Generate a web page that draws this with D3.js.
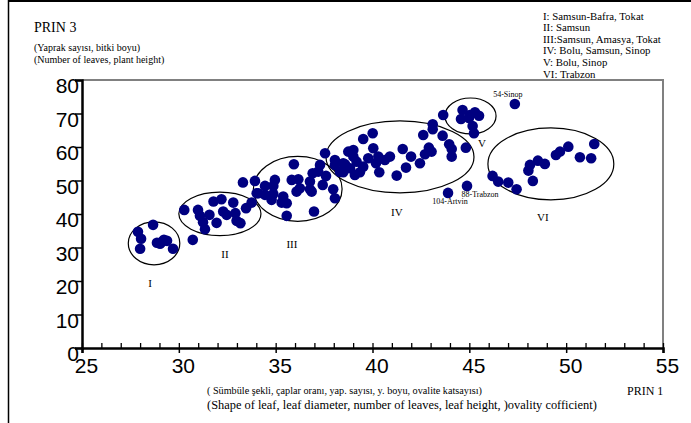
<!DOCTYPE html>
<html>
  <head>
    <meta charset="utf-8">
    <script src="https://d3js.org/d3.v7.min.js"></script>
    <style type="text/css">
      body { margin: 0; background: #fff; }
      .serif { font-family: "Liberation Serif", "Times New Roman", serif; fill: #000; }
      .tick text { font-family: "Liberation Sans", Arial, sans-serif; font-size: 21px; fill: #000; }
    </style>
  </head>
  <body>
    <svg id="chart"></svg>
    <script>
      // PRIN 1 / PRIN 3 scores per group
      var groupI = [[27.89,34.67],[28.05,32.59],[28.0,29.61],[28.67,36.76],[28.87,31.4],
                    [29.13,31.69],[29.39,31.99],[29.03,31.1],[29.23,32.3],[29.7,29.61]];
      var groupII = [[30.28,41.23],[30.99,41.23],[31.09,39.45],[31.25,37.51],[31.35,35.48],
                     [31.58,39.74],[31.79,43.71],[32.2,44.42],[31.95,37.36],[32.29,40.73],
                     [32.47,39.74],[32.81,43.41],[32.92,40.25],[32.98,37.95],[33.18,37.27],
                     [33.47,41.74],[33.76,43.41],[30.72,32.29]];
      var groupIII = [[33.31,49.43],[33.93,49.88],[34.02,46.21],[35.94,54.86],[37.29,54.65],
                      [34.45,48.39],[34.1,46.21],[34.45,45.71],[34.88,46.0],[34.96,50.18],
                      [34.88,48.39],[35.39,45.2],[35.57,43.23],[35.31,43.41],[34.79,44.22],
                      [35.83,50.18],[36.17,50.39],[36.08,46.69],[36.25,47.7],[36.77,49.67],
                      [36.91,52.18],[37.2,52.65],[36.77,47.41],[36.86,46.69],[37.43,48.69],
                      [37.6,51.37],[37.97,47.41],[38.06,44.72],[36.98,40.73],[35.57,39.45]];
      var groupIV = [[37.55,58.14],[38.49,55.16],[38.32,52.56],
                     [43.11,66.79],[43.11,65.3],[42.62,63.6],[43.62,63.39],[43.96,60.82],
                     [44.09,59.42],[44.82,59.81],[44.09,57.13],[42.91,59.81],[43.05,58.62],
                     [42.71,57.84],[41.99,57.13],[42.45,55.16],[41.56,59.42],[41.73,53.85],
                     [41.25,51.46],[40.9,57.13],[40.64,56.14],[40.3,57.13],[40.35,52.47],
                     [40.01,64.1],[39.52,62.4],[40.04,59.63],[39.78,56.65],[40.18,55.16],
                     [39.01,59.12],[38.75,58.62],[39.01,57.13],[39.18,55.63],[39.52,54.14],
                     [39.35,52.47],[38.84,53.67],[39.09,51.67],[38.58,54.86],[38.49,52.47],
                     [38.06,56.14],[38.06,54.65]];
      var groupV = [[43.65,69.56],[44.65,71.05],[45.03,69.56],[45.29,70.36],[45.5,69.35],
                    [44.57,68.37],[44.98,68.66],[45.17,66.28],[45.24,64.1]];
      var groupVI = [[46.2,51.37],[46.49,49.67],[47.01,49.37],[47.44,47.41],[48.05,52.95],
                     [48.13,54.65],[48.28,49.88],[48.54,55.93],[48.9,54.95],[49.47,57.63],
                     [49.68,58.62],[50.11,60.11],[50.71,56.95],[51.29,56.65],[51.45,60.91]];
      var namedPoints = ["54-Sinop", "88-Trabzon", "104-Artvin"];
      var namedValues = [[47.35,72.84],[44.88,48.39],[43.9,46.3]];

      // group ellipses: centre x, centre y, radius x, radius y (data units)
      var groupNames = ["I", "II", "III", "IV", "V", "VI"];
      var ellipses = [[28.72,31.25,1.33,6.41],[32.12,40.04,2.12,6.47],[36.14,47.5,2.29,9.69],
                      [41.42,57.04,3.82,10.73],[45.06,69.26,1.32,5.37],[49.21,54.95,3.25,10.73]];
      var groupLabelPos = [[28.51,19.5],[32.38,28.1],[35.84,31.1],[41.26,40.6],[45.65,61.2],[48.8,39.1]];
      var legendLines = ["I: Samsun-Bafra, Tokat", "II: Samsun", "III:Samsun, Amasya, Tokat",
                         "IV: Bolu, Samsun, Sinop", "V: Bolu, Sinop", "VI: Trabzon"];

      var xTicks = [25, 30, 35, 40, 45, 50, 55];
      var yTicks = [0, 10, 20, 30, 40, 50, 60, 70, 80];

      var width = 691, height = 423;
      var svg = d3.select("#chart").attr("width", width).attr("height", height);

      var x = d3.scaleLinear().domain([25, 55]).range([82, 663]);
      var y = d3.scaleLinear().domain([0, 80]).range([348, 80]);

      // outer frame
      svg.append("line").attr("x1", 8).attr("x2", width).attr("y1", 1).attr("y2", 1)
          .attr("stroke", "#000").attr("stroke-width", 2);
      svg.append("line").attr("x1", 8.5).attr("x2", 8.5).attr("y1", 0).attr("y2", height)
          .attr("stroke", "#000").attr("stroke-width", 1.5);

      // plot box top / right in grey
      svg.append("path")
          .attr("d", "M" + x(25) + "," + y(80) + "H" + x(55) + "V" + y(0))
          .attr("fill", "none").attr("stroke", "#808080").attr("stroke-width", 2);

      // minor ticks on x (inside)
      svg.append("g").attr("transform", "translate(0," + y(0) + ")")
          .call(d3.axisTop(x).ticks(30).tickSize(5).tickFormat(""))
          .call(function(g) { g.select(".domain").remove(); })
          .selectAll("line").attr("stroke", "#000").attr("stroke-width", 1.3);

      var xAxis = svg.append("g").attr("transform", "translate(0," + y(0) + ")")
          .call(d3.axisBottom(x).tickValues(xTicks).tickSize(5).tickPadding(5));
      xAxis.select(".domain").attr("stroke", "#000").attr("stroke-width", 2.5);
      xAxis.selectAll(".tick line").attr("stroke-width", 1.5);
      xAxis.selectAll(".tick text").attr("dx", 4);

      var yAxis = svg.append("g").attr("transform", "translate(" + x(25) + ",0)")
          .call(d3.axisLeft(y).tickValues(yTicks).tickSize(7));
      yAxis.select(".domain").attr("stroke", "#000").attr("stroke-width", 2.5);
      yAxis.selectAll(".tick line").attr("stroke-width", 1.5);
      yAxis.selectAll(".tick text").attr("x", -3).attr("dy", "0.6em");

      // ellipses
      svg.append("g").selectAll("ellipse").data(ellipses).enter().append("ellipse")
          .attr("cx", function(d) { return x(d[0]); })
          .attr("cy", function(d) { return y(d[1]); })
          .attr("rx", function(d) { return x(d[0] + d[2]) - x(d[0]); })
          .attr("ry", function(d) { return y(d[1]) - y(d[1] + d[3]); })
          .attr("fill", "none").attr("stroke", "#000").attr("stroke-width", 1.2);

      // points
      var all = groupI.concat(groupII, groupIII, groupIV, groupV, groupVI, namedValues);
      svg.append("g").selectAll("circle").data(all).enter().append("circle")
          .attr("cx", function(d) { return x(d[0]); })
          .attr("cy", function(d) { return y(d[1]); })
          .attr("r", 5.3)
          .attr("fill", "#000080");

      // group labels
      svg.append("g").selectAll("text").data(groupNames).enter().append("text")
          .attr("class", "serif")
          .attr("x", function(d, i) { return x(groupLabelPos[i][0]); })
          .attr("y", function(d, i) { return y(groupLabelPos[i][1]); })
          .attr("text-anchor", "middle").attr("dy", "0.35em")
          .attr("font-size", 11)
          .text(function(d) { return d; });

      // named outliers
      var namedOffset = [[-7, -10], [13, 8], [2, 8]];
      svg.append("g").selectAll("text").data(namedPoints).enter().append("text")
          .attr("class", "serif")
          .attr("x", function(d, i) { return x(namedValues[i][0]) + namedOffset[i][0]; })
          .attr("y", function(d, i) { return y(namedValues[i][1]) + namedOffset[i][1]; })
          .attr("text-anchor", "middle").attr("dy", "0.35em")
          .attr("font-size", 8).attr("fill", "#222")
          .text(function(d) { return d; });

      // legend
      svg.append("g").selectAll("text").data(legendLines).enter().append("text")
          .attr("class", "serif")
          .attr("x", 543)
          .attr("y", function(d, i) { return 19.5 + i * 11.6; })
          .attr("font-size", 10.8)
          .text(function(d) { return d; });

      // y titles
      svg.append("text").attr("class", "serif").attr("x", 34).attr("y", 32)
          .attr("font-size", 14).text("PRIN 3");
      svg.append("text").attr("class", "serif").attr("x", 34).attr("y", 51)
          .attr("font-size", 10).text("(Yaprak sayısı, bitki boyu)");
      svg.append("text").attr("class", "serif").attr("x", 34).attr("y", 63)
          .attr("font-size", 10).text("(Number of leaves, plant height)");

      // x titles
      svg.append("text").attr("class", "serif").attr("x", 207).attr("y", 394)
          .attr("font-size", 10.2).text("( Sümbüle şekli, çaplar oranı, yap. sayısı, y. boyu, ovalite katsayısı)");
      svg.append("text").attr("class", "serif").attr("x", 207).attr("y", 409)
          .attr("font-size", 12.4).text("(Shape of leaf, leaf diameter, number of leaves, leaf height, )ovality cofficient)");
      svg.append("text").attr("class", "serif").attr("x", 627).attr("y", 395)
          .attr("font-size", 12).text("PRIN 1");
    </script>
  </body>
</html>
